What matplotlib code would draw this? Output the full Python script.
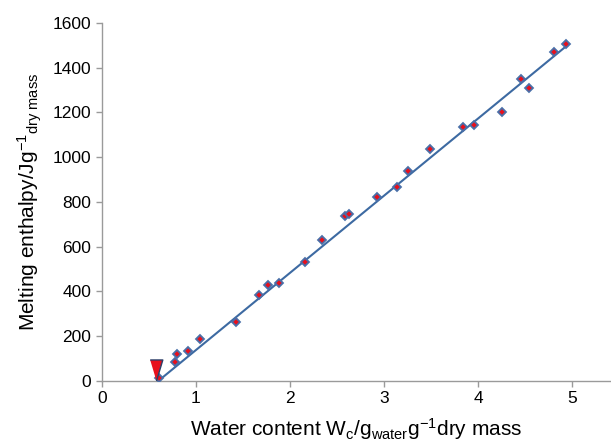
import matplotlib
matplotlib.use("Agg")
from matplotlib import pyplot as plt

plt.rcParams['font.family'] = ['Liberation Sans', 'DejaVu Sans']
plt.rcParams['mathtext.fontset'] = 'custom'
plt.rcParams['mathtext.rm'] = 'Liberation Sans'
plt.rcParams['mathtext.it'] = 'Liberation Sans'

# measured points (water content, melting enthalpy)
water = [0.61, 0.78, 0.80, 0.92, 1.04, 1.43, 1.67, 1.77, 1.88, 2.16, 2.34,
         2.58, 2.63, 2.92, 3.14, 3.25, 3.49, 3.84, 3.95, 4.25, 4.45, 4.54,
         4.80, 4.93]
enthalpy = [12, 87, 120, 135, 187, 264, 384, 430, 436, 533, 631,
            736, 746, 821, 866, 938, 1038, 1133, 1143, 1203, 1348, 1308,
            1470, 1507]

# fitted line end points
fit_x = [0.60, 4.93]
fit_y = [0, 1495]

# arrow marker at the intercept
arrow_x = [0.575]
arrow_y = [48]

fig = plt.figure(figsize=(6.11, 4.42), dpi=100)
ax = fig.add_axes([0.1665, 0.138, 0.832, 0.810])

ax.plot(fit_x, fit_y, color='#3d6aa2', lw=1.5, zorder=2)
ax.plot(water, enthalpy, ls='none', marker='D', ms=4.2,
        mfc='#e8101c', mec='#4a6fa8', mew=1.3, zorder=3)
ax.scatter(arrow_x, arrow_y, marker=[(-3, 5), (3, 5), (0, -5)], s=230,
           c='#e8101c', edgecolors='#2b3f6a', linewidths=1.0, zorder=4)

ax.set_xlim(0, 5.4)
ax.set_ylim(0, 1600)
ax.set_xticks([0, 1, 2, 3, 4, 5])
ax.set_yticks(range(0, 1601, 200))

for s in ['top', 'right']:
    ax.spines[s].set_visible(False)
for s in ['left', 'bottom']:
    ax.spines[s].set_color('#9a9a9a')
    ax.spines[s].set_linewidth(1.0)
ax.tick_params(colors='#9a9a9a', labelcolor='black', labelsize=12.5,
               length=4, width=1.0, direction='out')

ax.set_xlabel(r'Water content W$_{\mathrm{c}}$/g$_{\mathrm{water}}$g$^{-1}$dry mass',
              fontsize=15, labelpad=7)
ax.set_ylabel(r'Melting enthalpy/Jg$^{-1}$$_{\mathrm{dry\ mass}}$',
              fontsize=15, labelpad=6)

fig.savefig('out.png', dpi=100)
